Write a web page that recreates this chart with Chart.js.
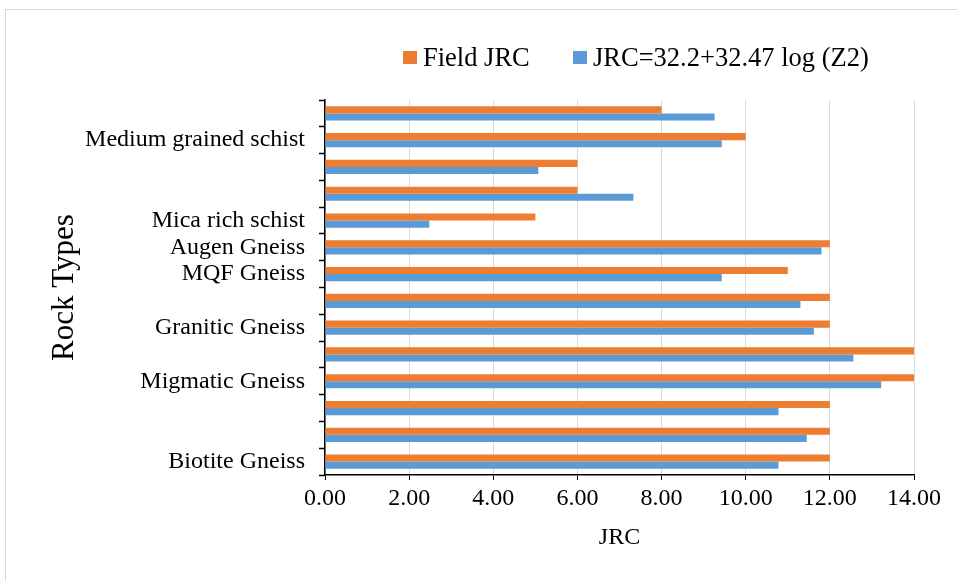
<!DOCTYPE html>
<html>
<head>
<meta charset="utf-8">
<script src="https://cdn.jsdelivr.net/npm/chart.js@4/dist/chart.umd.min.js"></script>
<style>
  html, body { margin: 0; padding: 0; background: #fff; }
  body { width: 957px; height: 581px; position: relative; overflow: hidden; font-family: "Liberation Serif", "Times New Roman", serif; }
  #frame { position: absolute; left: 5px; top: 9px; width: 960px; height: 580px; border: 1px solid #d9d9d9; box-sizing: border-box; }
  #wrap { position: absolute; left: 0; top: 0; width: 957px; height: 581px; }
  #legend { position: absolute; top: 41px; left: 0; width: 957px; height: 32px; font-size: 26.5px; color: #000; }
  .item { position: absolute; top: 0; display: flex; align-items: center; white-space: nowrap; height: 32px; }
  .sw { width: 14px; height: 13px; margin-right: 6px; }
</style>
</head>
<body>
<div id="frame"></div>
<div id="wrap"><canvas id="c" width="957" height="581"></canvas></div>
<div id="legend"></div>
<script>
// Categories listed bottom to top (as in the source chart)
const categories = ["Biotite Gneiss", "", "", "Migmatic Gneiss", "", "Granitic Gneiss", "", "MQF Gneiss", "Augen Gneiss", "Mica rich schist", "", "", "Medium grained schist", ""];
const fieldJRC = [12, 12, 12, 14, 14, 12, 12, 11, 12, 5, 6, 6, 10, 8];
const modelJRC = [10.78, 11.45, 10.78, 13.22, 12.56, 11.62, 11.3, 9.43, 11.8, 2.48, 7.33, 5.07, 9.43, 9.26];
const seriesNames = ["Field JRC", "JRC=32.2+32.47 log (Z2)"];
const seriesColors = ["#ED7D31", "#5B9BD5"];
const xTicks = [0, 2, 4, 6, 8, 10, 12, 14];

const FONT = "'Liberation Serif', 'Times New Roman', serif";

const chart = new Chart(document.getElementById('c'), {
  type: 'bar',
  data: {
    labels: categories,
    datasets: [
      { label: seriesNames[0], data: fieldJRC, backgroundColor: seriesColors[0], borderWidth: 0 },
      { label: seriesNames[1], data: modelJRC, backgroundColor: seriesColors[1], borderWidth: 0 }
    ]
  },
  options: {
    indexAxis: 'y',
    responsive: false,
    animation: false,
    maintainAspectRatio: false,
    datasets: { bar: { categoryPercentage: 0.53, barPercentage: 1.0 } },
    layout: { padding: { left: 0, right: 43, top: 100, bottom: 0 } },
    plugins: { legend: { display: false }, tooltip: { enabled: false } },
    scales: {
      x: {
        type: 'linear',
        min: 0, max: 14,
        afterBuildTicks: (s) => { s.ticks = xTicks.map(v => ({ value: v })); },
        afterFit: (s) => { s.height = 106; },
        border: { display: true, color: '#000', width: 1.5 },
        grid: { color: '#d9d9d9', lineWidth: 1, tickColor: '#000', tickLength: 5, drawTicks: true },
        ticks: { color: '#000', font: { family: FONT, size: 24 }, padding: 4, callback: (v) => Number(v).toFixed(2), maxRotation: 0 },
        title: { display: true, text: 'JRC', color: '#000', font: { family: FONT, size: 24 }, padding: { top: 0, bottom: 29 } }
      },
      y: {
        reverse: true,
        afterFit: (s) => { s.width = 325; },
        border: { display: true, color: '#000', width: 1.5 },
        grid: { display: true, drawOnChartArea: false, offset: true, tickColor: '#000', tickLength: 6, tickWidth: 1.5 },
        ticks: { color: '#000', font: { family: FONT, size: 24 }, padding: 14, autoSkip: false },
        title: { display: true, text: 'Rock Types', color: '#000', font: { family: FONT, size: 31 }, padding: { top: 46, bottom: 0 } }
      }
    }
  }
});

// HTML legend built from dataset labels/colours
const legendPositions = [403, 573];
const lg = document.getElementById('legend');
chart.data.datasets.forEach((ds, i) => {
  const it = document.createElement('div');
  it.className = 'item';
  it.style.left = legendPositions[i] + 'px';
  const sw = document.createElement('span');
  sw.className = 'sw';
  sw.style.background = ds.backgroundColor;
  const tx = document.createElement('span');
  tx.textContent = ds.label;
  it.appendChild(sw); it.appendChild(tx);
  lg.appendChild(it);
});
</script>
</body>
</html>
